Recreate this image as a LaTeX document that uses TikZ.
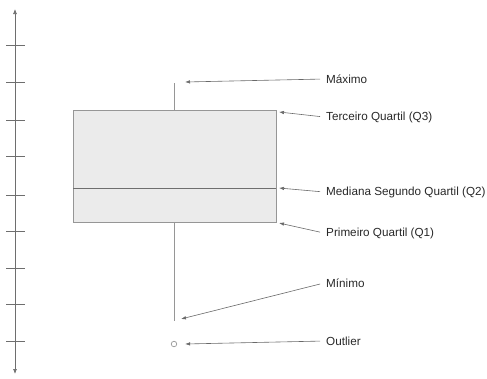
\documentclass[tikz,border=0pt]{standalone}
\usepackage{fontspec}
\setmainfont{Liberation Sans}
\definecolor{axisgray}{RGB}{110, 110, 110}
\definecolor{boxgray}{RGB}{150, 150, 150}
\definecolor{boxfill}{RGB}{235, 235, 235}
\definecolor{arrowgray}{RGB}{105, 105, 105}
\definecolor{textgray}{RGB}{40, 40, 40}
\usetikzlibrary{arrows.meta, calc}

\tikzset{
  lbl/.style={anchor=west, inner sep=2pt, text=textgray, font=\fontsize{11.7}{13}\selectfont},
  pointer/.style={draw=arrowgray, line width=0.6pt, shorten <=4pt, -{Latex[length=5pt, width=3.5pt]}},
  tick/.style={draw=axisgray, line width=0.7pt}
}

\begin{document}
\begin{tikzpicture}[x=1pt, y=-1pt]
  \useasboundingbox (0,0) rectangle (487,378);

  % Vertical axis with ticks
  \draw[axisgray, line width=0.7pt, {Latex[length=5pt, width=4pt]}-{Latex[length=5pt, width=4pt]}] (15,9) -- (15,374);
  \foreach \ty in {45, 82, 120, 156, 195, 231, 268, 304, 341}
    \draw[tick] (6,\ty) -- (25,\ty);

  % Box and whiskers
  \draw[boxgray, fill=boxfill, line width=0.8pt] (73,110) rectangle (276,222);
  \draw[axisgray, line width=0.8pt] (73,188) -- (276,188);
  \draw[boxgray, line width=0.8pt] (174,83) -- (174,110);
  \draw[boxgray, line width=0.8pt] (174,222) -- (174,321);
  \node[draw=boxgray, circle, line width=0.7pt, inner sep=0pt, minimum size=5.5pt] (outl) at (174,344) {};

  % Targets
  \coordinate (pmax) at (185,82);
  \coordinate (pq3) at (279,112);
  \coordinate (pq2) at (279,188);
  \coordinate (pq1) at (279,223);
  \coordinate (pmin) at (181,319);

  % Labels
  \node[lbl] (lmax) at (324,79) {Máximo};
  \node[lbl] (lq3) at (324,117) {Terceiro Quartil (Q3)};
  \node[lbl] (lq2) at (324,192) {Mediana Segundo Quartil (Q2)};
  \node[lbl] (lq1) at (324,233) {Primeiro Quartil (Q1)};
  \node[lbl] (lmin) at (324,283) {Mínimo};
  \node[lbl] (lout) at (324,341) {Outlier};

  % Pointers
  \draw[pointer] (lmax.west) -- (pmax);
  \draw[pointer] (lq3.west) -- (pq3);
  \draw[pointer] (lq2.west) -- (pq2);
  \draw[pointer] (lq1.west) -- (pq1);
  \draw[pointer] (lmin.west) -- (pmin);
  \draw[pointer] (lout.west) -- ($(outl.east)+(8,0)$);
\end{tikzpicture}
\end{document}
